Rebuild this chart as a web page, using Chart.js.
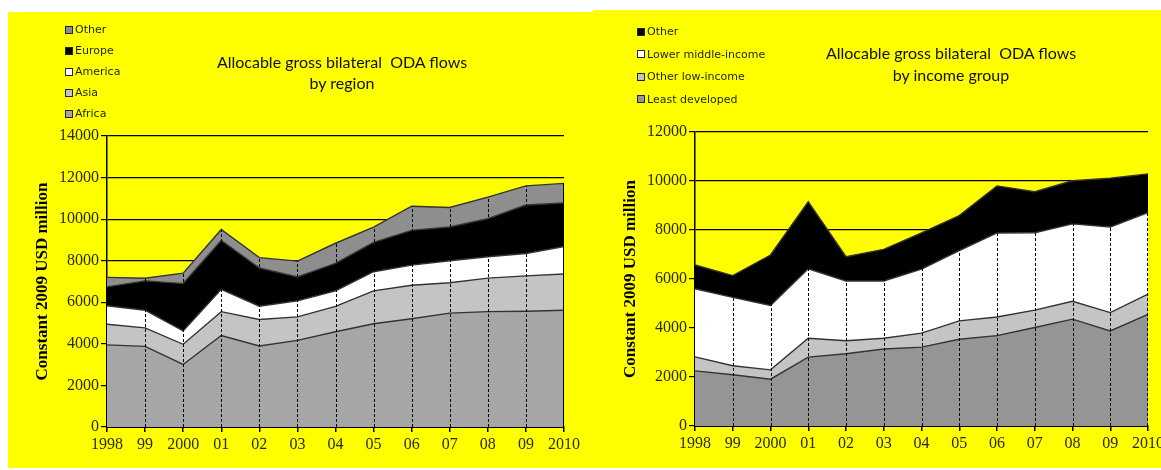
<!DOCTYPE html>
<html>
<head>
<meta charset="utf-8">
<script src="https://cdn.jsdelivr.net/npm/chart.js@4.4.1/dist/chart.umd.min.js"></script>
<style>
  html, body { margin: 0; padding: 0; background: #fff; width: 1161px; height: 470px; overflow: hidden; }
  .panel { position: absolute; background: #ffff00; }
  #p1 { left: 8px; top: 12px; width: 585px; height: 456px; }
  #p2 { left: 593px; top: 10px; width: 568px; height: 458px; }
  canvas { position: absolute; left: 0; top: 0; }
  .title { position: absolute; width: 400px; font-family: Lato, sans-serif; font-size: 16px;
           color: #111; text-align: center; white-space: pre; }
  .legend { position: absolute; font-family: 'DejaVu Sans', sans-serif; font-size: 11px; color: #1c2600; }
  .legend .item { position: absolute; left: 0; white-space: nowrap; height: 12px; line-height: 12px; }
  .legend .box { display: inline-block; width: 6px; height: 6px; border: 1px solid #222;
                 margin-right: 2px; vertical-align: -0.5px; }
</style>
</head>
<body>
<div class="panel" id="p1">
  <canvas id="c1" width="585" height="456"></canvas>
  <div class="title" style="left:134px;top:39px;line-height:21px;">Allocable gross bilateral  ODA flows
by region</div>
  <div class="legend" id="lg1" style="left:57px;top:0;"></div>
</div>
<div class="panel" id="p2">
  <canvas id="c2" width="568" height="458"></canvas>
  <div class="title" style="left:158px;top:32px;line-height:22px;">Allocable gross bilateral  ODA flows
by income group</div>
  <div class="legend" id="lg2" style="left:44px;top:0;"></div>
</div>

<script>
// Years on the category axis
const years = ['1998', '99', '2000', '01', '02', '03', '04', '05', '06', '07', '08', '09', '2010'];

// By region, constant 2009 USD million (stacked bottom to top)
const africa  = [3950, 3880, 3010, 4400, 3900, 4170, 4580, 4970, 5210, 5480, 5550, 5570, 5620];
const asia    = [ 990,  890,  970, 1150, 1270, 1130, 1220, 1580, 1610, 1460, 1610, 1700, 1740];
const america = [ 890,  850,  640, 1070,  640,  770,  750,  920,  970, 1060, 1030, 1080, 1320];
const europe  = [ 910, 1410, 2280, 2350, 1840, 1150, 1320, 1410, 1670, 1620, 1830, 2330, 2100];
const otherRegion = [460, 130, 500, 530, 500, 760, 970, 740, 1160, 940, 1040, 920, 940];

// By income group, constant 2009 USD million (stacked bottom to top)
const leastDeveloped = [2250, 2090, 1910, 2810, 2950, 3140, 3220, 3540, 3690, 4020, 4360, 3880, 4560];
const otherLowIncome = [ 570,  370,  380,  770,  530,  440,  570,  750,  760,  710,  730,  750,  820];
const lowerMiddle    = [2780, 2790, 2630, 2840, 2440, 2340, 2610, 2870, 3430, 3160, 3160, 3490, 3330];
const otherIncome    = [ 970,  890, 2060, 2730,  990, 1290, 1480, 1430, 1920, 1670, 1760, 1990, 1580];

const TICK_COLOR = '#2a2a10';
const SERIF = "'Liberation Serif', 'Times New Roman', serif";

// Dashed drop lines from the baseline up to the top of the stack at each year
const dropLines = {
  id: 'dropLines',
  afterDatasetsDraw(chart, args, opts) {
    const { ctx } = chart;
    const yScale = chart.scales.y;
    const top = chart.getDatasetMeta(chart.data.datasets.length - 1);
    const base = yScale.getPixelForValue(0);
    ctx.save();
    ctx.strokeStyle = '#000';
    ctx.lineWidth = 1;
    top.data.forEach((pt, i) => {
      if (i === 0) return;
      const last = i === top.data.length - 1;
      const px = last ? Math.round(pt.x) - 0.5 : Math.round(pt.x) + 0.5;
      ctx.setLineDash(last && opts.solidEnd ? [] : [3, 2]);
      ctx.beginPath();
      ctx.moveTo(px, base);
      ctx.lineTo(px, pt.y);
      ctx.stroke();
    });
    ctx.restore();
  }
};

function layer(label, data, color, first) {
  return {
    label, data,
    backgroundColor: color,
    borderColor: '#333',
    borderWidth: 1.4,
    fill: first ? 'origin' : '-1',
    pointRadius: 0,
    tension: 0
  };
}

function makeChart(canvasId, datasets, cfg) {
  return new Chart(document.getElementById(canvasId), {
    type: 'line',
    data: { labels: years, datasets },
    options: {
      responsive: false,
      animation: false,
      devicePixelRatio: 1,
      layout: { padding: { top: cfg.padTop, right: cfg.padRight, bottom: 0, left: 0 } },
      plugins: {
        legend: { display: false },
        tooltip: { enabled: false },
        dropLines: { solidEnd: cfg.solidEnd }
      },
      scales: {
        x: {
          offset: false,
          grid: { drawOnChartArea: false, drawTicks: true, tickLength: 5, color: '#000', lineWidth: 1.5 },
          border: { color: '#000', width: 2 },
          ticks: { color: TICK_COLOR, font: { family: SERIF, size: 16 }, padding: 3, maxRotation: 0, autoSkip: false },
          afterFit(scale) {
            scale.height = cfg.xHeight;
            scale.paddingLeft = 0;
            scale.paddingRight = 0;
          }
        },
        y: {
          stacked: true,
          min: 0,
          max: cfg.yMax,
          ticks: {
            stepSize: 2000,
            color: TICK_COLOR,
            font: { family: SERIF, size: 16 },
            padding: 2,
            callback: (v) => String(v)
          },
          grid: { color: '#000', lineWidth: 1.2, tickLength: 6 },
          border: { color: '#000', width: 1.5 },
          title: {
            display: true,
            text: 'Constant 2009 USD million',
            color: '#000',
            font: { family: SERIF, size: 17, weight: 'bold' },
            padding: { top: cfg.titlePad, bottom: 0 }
          },
          afterFit(scale) {
            scale.width = cfg.yWidth;
            scale.paddingTop = 0;
            scale.paddingBottom = 0;
          }
        }
      }
    },
    plugins: [dropLines]
  });
}

function buildLegend(id, datasets, spacing, firstCenter) {
  const el = document.getElementById(id);
  datasets.slice().reverse().forEach((ds, i) => {
    const item = document.createElement('div');
    item.className = 'item';
    item.style.top = (firstCenter + spacing * i - 6) + 'px';
    const box = document.createElement('span');
    box.className = 'box';
    box.style.background = ds.backgroundColor;
    item.appendChild(box);
    item.appendChild(document.createTextNode(ds.label));
    el.appendChild(item);
  });
}

const regionSets = [
  layer('Africa', africa, '#a6a6a6', true),
  layer('Asia', asia, '#c4c4c4'),
  layer('America', america, '#ffffff'),
  layer('Europe', europe, '#000000'),
  layer('Other', otherRegion, '#8e8e8e')
];

const incomeSets = [
  layer('Least developed', leastDeveloped, '#959595', true),
  layer('Other low-income', otherLowIncome, '#c4c4c4'),
  layer('Lower middle-income', lowerMiddle, '#ffffff'),
  layer('Other', otherIncome, '#000000')
];

makeChart('c1', regionSets, { padTop: 124, padRight: 29, xHeight: 41, yWidth: 99, yMax: 14000, titlePad: 24, solidEnd: true });
makeChart('c2', incomeSets, { padTop: 122, padRight: 13, xHeight: 42, yWidth: 102, yMax: 12000, titlePad: 27, solidEnd: false });

buildLegend('lg1', regionSets, 21, 18);
buildLegend('lg2', incomeSets, 22.5, 22);
</script>
</body>
</html>
